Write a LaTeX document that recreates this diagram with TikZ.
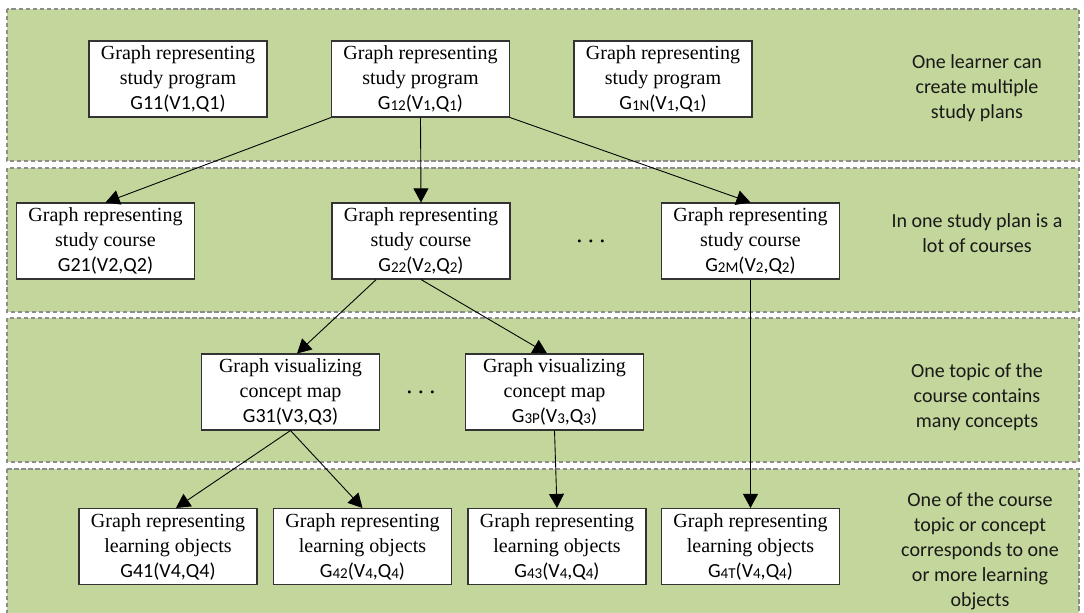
\documentclass[tikz,border=0pt]{standalone}
\usepackage{fontspec}
\setmainfont{Liberation Serif}
\newfontfamily\calibri{Carlito}
\usetikzlibrary{arrows.meta,calc,positioning}

\definecolor{bandgreen}{RGB}{195,214,155}
\definecolor{bandline}{RGB}{140,140,140}
\newcommand{\gsub}[1]{\raisebox{-0.15ex}{\scalebox{0.75}{#1}}}
\newcommand{\gline}[1]{{\calibri\fontsize{11.4}{14.2}\selectfont #1}}

\begin{document}
\begin{tikzpicture}[
	band/.style={fill=bandgreen, draw=bandline, dash pattern=on 2.5pt off 1.5pt, line width=0.6pt},
	graphbox/.style={draw=black!80, fill=white, line width=0.6pt, minimum width=3.56cm, minimum height=1.52cm, inner sep=1pt, align=center, font=\fontsize{11.4}{14.2}\selectfont},
	note/.style={align=center, font=\calibri\fontsize{11.4}{14.2}\selectfont, text=black!90},
	dots/.style={font=\fontsize{14}{14}\selectfont},
	link/.style={-{Triangle[length=8pt,width=8.5pt]}, line width=0.5pt}
]
	\useasboundingbox (0,0) rectangle (21.68,-12.24);

	% levels
	\draw[band] (0.14,-0.18) rectangle (21.58,-3.22);
	\draw[band] (0.14,-3.36) rectangle (21.58,-6.24);
	\draw[band] (0.14,-6.36) rectangle (21.58,-9.24);
	\draw[band] (0.14,-9.38) rectangle (21.58,-12.8);

	% study programs
	\node[graphbox] (g11) at (3.56,-1.58) {Graph representing\\study program\\\gline{G11(V1,Q1)}};
	\node[graphbox] (g12) at (8.41,-1.58) {Graph representing\\study program\\\gline{G\gsub{12}(V\gsub{1},Q\gsub{1})}};
	\node[graphbox] (g1n) at (13.26,-1.58) {Graph representing\\study program\\\gline{G\gsub{1N}(V\gsub{1},Q\gsub{1})}};

	% study courses
	\node[graphbox] (g21) at (2.11,-4.82) {Graph representing\\study course\\\gline{G21(V2,Q2)}};
	\node[graphbox] (g22) at (8.42,-4.82) {Graph representing\\study course\\\gline{G\gsub{22}(V\gsub{2},Q\gsub{2})}};
	\node[graphbox] (g2m) at (15.01,-4.82) {Graph representing\\study course\\\gline{G\gsub{2M}(V\gsub{2},Q\gsub{2})}};
	\node[dots] (dots2) at (11.82,-4.82) {.\hspace{0.22em}.\hspace{0.22em}.};

	% concept maps
	\node[graphbox] (g31) at (5.81,-7.84) {Graph visualizing\\concept map\\\gline{G31(V3,Q3)}};
	\node[graphbox] (g3p) at (11.09,-7.84) {Graph visualizing\\concept map\\\gline{G\gsub{3P}(V\gsub{3},Q\gsub{3})}};
	\node[dots] (dots3) at (8.42,-7.84) {.\hspace{0.22em}.\hspace{0.22em}.};

	% learning objects
	\node[graphbox] (g41) at (3.36,-10.93) {Graph representing\\learning objects\\\gline{G41(V4,Q4)}};
	\node[graphbox] (g42) at (7.25,-10.93) {Graph representing\\learning objects\\\gline{G\gsub{42}(V\gsub{4},Q\gsub{4})}};
	\node[graphbox] (g43) at (11.14,-10.93) {Graph representing\\learning objects\\\gline{G\gsub{43}(V\gsub{4},Q\gsub{4})}};
	\node[graphbox] (g4t) at (15.01,-10.93) {Graph representing\\learning objects\\\gline{G\gsub{4T}(V\gsub{4},Q\gsub{4})}};

	% notes
	\node[note] (n1) at (19.54,-1.77) {One learner can\\create multiple\\study plans};
	\node[note] (n2) at (19.54,-4.67) {In one study plan is a\\lot of courses};
	\node[note] (n3) at (19.54,-7.95) {One topic of the\\course contains\\many concepts};
	\node[note] (n4) at (19.6,-11.02) {One of the course\\topic or concept\\corresponds to one\\or more learning\\objects};

	\draw[link] (g12.south west) -- (g21.north);
	\draw[link] (g12.south) -- (g22.north);
	\draw[link] (g12.south east) -- (g2m.north);
	\draw[link] ($(g22.south west)!0.25!(g22.south east)$) -- ([xshift=0.13cm]g31.north);
	\draw[link] (g22.south) -- ([xshift=-0.15cm]g3p.north);
	\draw[link] (g2m.south) -- (g4t.north);
	\draw[link] (g31.south) -- ([xshift=0.16cm]g41.north);
	\draw[link] (g31.south) -- (g42.north);
	\draw[link] (g3p.south) -- (g43.north);
\end{tikzpicture}
\end{document}
